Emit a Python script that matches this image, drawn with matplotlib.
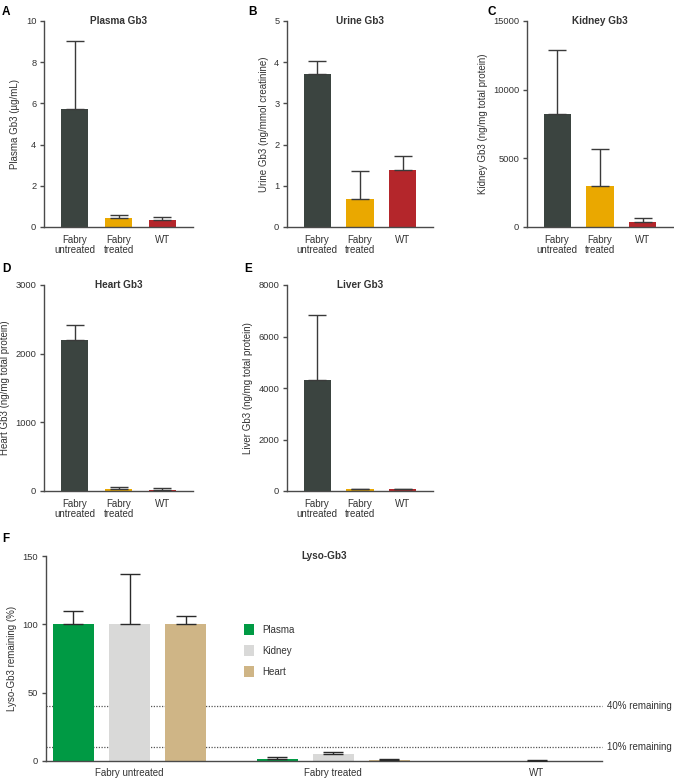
import matplotlib
matplotlib.use("Agg")
import matplotlib.pyplot as plt
import numpy as np

plt.rcParams['font.family'] = ['Liberation Sans', 'DejaVu Sans']

groups = ["Fabry\nuntreated", "Fabry\ntreated", "WT"]
bar_colors = ["#3b4440", "#eaa800", "#b4262b"]

plasma_mean = [5.75, 0.45, 0.33]
plasma_sd = [3.3, 0.15, 0.15]
urine_mean = [3.72, 0.68, 1.38]
urine_sd = [0.32, 0.68, 0.35]
kidney_mean = [8250, 2950, 400]
kidney_sd = [4650, 2750, 250]
heart_mean = [2200, 30, 20]
heart_sd = [220, 25, 20]
liver_mean = [4300, 70, 60]
liver_sd = [2550, 20, 15]

lyso_groups = ["Fabry untreated", "Fabry treated", "WT"]
lyso_series = ["Plasma", "Kidney", "Heart"]
lyso_colors = ["#009a44", "#d9d9d8", "#cfb586"]
lyso_plasma = [100, 1.5, 0.0]
lyso_plasma_sd = [9.5, 1.2, 0.0]
lyso_kidney = [100, 4.9, 0.3]
lyso_kidney_sd = [37, 1.9, 0.5]
lyso_heart = [100, 0.5, 0.0]
lyso_heart_sd = [6.3, 0.8, 0.0]
thresholds = [40, 10]
threshold_labels = ["40% remaining", "10% remaining"]

W, H = 674, 779
fig = plt.figure(figsize=(W / 100, H / 100), dpi=100)

AX_COL = "#4a4a4a"
TXT = "#333333"
TICK_FS = 6.7
LAB_FS = 7

def rect(l, r, t, b):
    return [l / W, 1 - b / H, (r - l) / W, (b - t) / H]

def style(ax):
    for s in ["top", "right"]:
        ax.spines[s].set_visible(False)
    for s in ["left", "bottom"]:
        ax.spines[s].set_color(AX_COL)
        ax.spines[s].set_linewidth(1.0)
    ax.tick_params(colors=AX_COL, labelcolor=TXT, labelsize=TICK_FS, width=1.0, length=3, pad=2.5)

def panel(rect_px, mean, sd, ymax, yticks, ylabel, title, letter, letter_xy):
    ax = fig.add_axes(rect(*rect_px))
    x = np.arange(len(groups))
    ax.bar(x, mean, width=0.63, color=bar_colors, zorder=2)
    ax.errorbar(x, mean, yerr=[np.zeros(len(sd)), sd], fmt="none", ecolor="#3a3a3a",
                elinewidth=1.0, capsize=6.5, capthick=1.0, zorder=3)
    ax.set_xlim(-0.7, 2.7)
    ax.set_ylim(0, ymax)
    ax.set_yticks(yticks)
    ax.set_xticks(x)
    style(ax)
    ax.set_xticklabels(groups, fontsize=LAB_FS, linespacing=1.0)
    ax.tick_params(axis="x", length=0, pad=6)
    ax.set_ylabel(ylabel, fontsize=LAB_FS, color=TXT, labelpad=4)
    ax.text(0.5, 1.0, title, transform=ax.transAxes, ha="center", va="center",
            fontsize=7.2, fontweight="bold", color=TXT)
    fig.text(letter_xy[0] / W, 1 - letter_xy[1] / H, letter, fontsize=8.5,
             fontweight="bold", ha="left", va="center")
    return ax

panel((44, 193, 21, 227), plasma_mean, plasma_sd, 10, [0, 2, 4, 6, 8, 10],
      "Plasma Gb3 (µg/mL)", "Plasma Gb3", "A", (2, 12))
panel((287, 433, 21, 227), urine_mean, urine_sd, 5, [0, 1, 2, 3, 4, 5],
      "Urine Gb3 (ng/mmol creatinine)", "Urine Gb3", "B", (248, 12))
panel((527, 673, 21, 227), kidney_mean, kidney_sd, 15000, [0, 5000, 10000, 15000],
      "Kidney Gb3 (ng/mg total protein)", "Kidney Gb3", "C", (488, 12))
panel((44, 193, 285, 491), heart_mean, heart_sd, 3000, [0, 1000, 2000, 3000],
      "Heart Gb3 (ng/mg total protein)", "Heart Gb3", "D", (2, 269))
panel((287, 433, 285, 491), liver_mean, liver_sd, 8000, [0, 2000, 4000, 6000, 8000],
      "Liver Gb3 (ng/mg total protein)", "Liver Gb3", "E", (244, 269))

# Panel F
ax = fig.add_axes(rect(46, 602, 556, 761))
x = np.arange(len(lyso_groups))
means = [lyso_plasma, lyso_kidney, lyso_heart]
sds = [lyso_plasma_sd, lyso_kidney_sd, lyso_heart_sd]
off = 0.275
bw = 0.2
for i, (m, s, c, name) in enumerate(zip(means, sds, lyso_colors, lyso_series)):
    xi = x + (i - 1) * off
    ax.bar(xi, m, width=bw, color=c, label=name, zorder=2)
    mask = np.array(s) > 0
    ax.errorbar(xi[mask], np.array(m)[mask], yerr=[np.zeros(mask.sum()), np.array(s)[mask]],
                fmt="none", ecolor="#2a2a2a", elinewidth=1.0, capsize=7, capthick=1.0, zorder=3)
for t, lab in zip(thresholds, threshold_labels):
    ax.axhline(t, color="#555555", linestyle=(0, (1, 1.2)), linewidth=0.9, zorder=1, clip_on=False)
    ax.text(1.009, t, lab, transform=ax.get_yaxis_transform(), ha="left", va="center",
            fontsize=LAB_FS, color=TXT)
ax.set_xlim(-0.41, 2.32)
ax.set_ylim(0, 150)
ax.set_yticks([0, 50, 100, 150])
ax.set_xticks(x)
style(ax)
ax.set_xticklabels(lyso_groups, fontsize=LAB_FS)
ax.set_ylabel("Lyso-Gb3 remaining (%)", fontsize=LAB_FS, color=TXT, labelpad=4)
ax.tick_params(axis="x", length=0, pad=5)
ax.text(0.5, 1.0, "Lyso-Gb3", transform=ax.transAxes, ha="center", va="center",
        fontsize=7.2, fontweight="bold", color=TXT)
fig.text(2 / W, 1 - 539 / H, "F", fontsize=8.5, fontweight="bold", ha="left", va="center")
ax.legend(loc="upper left", bbox_to_anchor=(0.34, 0.71), frameon=False, fontsize=LAB_FS,
          handlelength=1.05, handleheight=1.4, labelspacing=0.98, handletextpad=0.9,
          labelcolor=TXT)

fig.savefig("out.png", dpi=100)
